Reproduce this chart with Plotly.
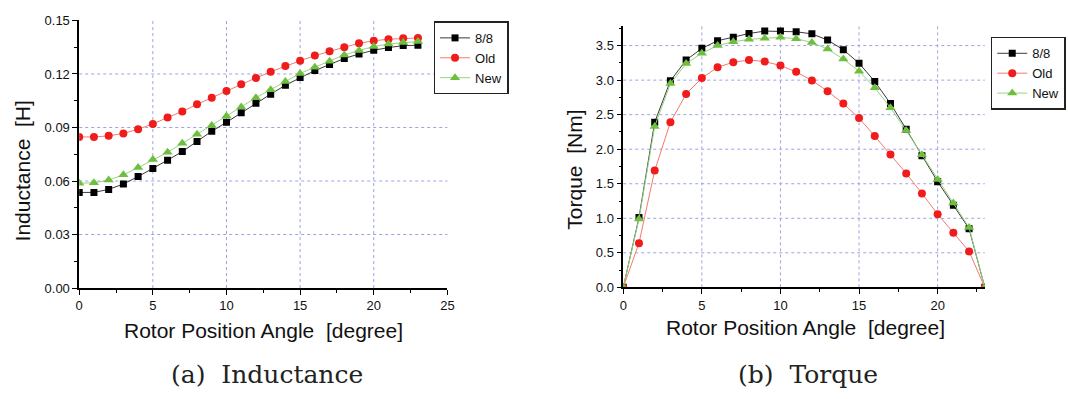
import plotly.graph_objects as go

# ---------------- data ----------------
angle = list(range(0, 24))

ind_88 = [0.0536, 0.0536, 0.0553, 0.0583, 0.0625, 0.0670, 0.0717, 0.0765, 0.0821, 0.0879,
          0.0929, 0.0983, 0.1036, 0.1087, 0.1137, 0.1180, 0.1219, 0.1253, 0.1287, 0.1312,
          0.1333, 0.1348, 0.1359, 0.1361]
ind_old = [0.0847, 0.0847, 0.0853, 0.0867, 0.0890, 0.0920, 0.0956, 0.0990, 0.1030, 0.1067,
           0.1105, 0.1143, 0.1178, 0.1212, 0.1245, 0.1274, 0.1303, 0.1328, 0.1350, 0.1372,
           0.1386, 0.1395, 0.1400, 0.1402]
ind_new = [0.0588, 0.0590, 0.0605, 0.0635, 0.0675, 0.0720, 0.0761, 0.0811, 0.0862, 0.0911,
           0.0965, 0.1015, 0.1067, 0.1112, 0.1158, 0.1203, 0.1238, 0.1271, 0.1307, 0.1332,
           0.1354, 0.1368, 0.1377, 0.1382]

tq_88 = [0.0, 1.01, 2.39, 2.99, 3.29, 3.46, 3.57, 3.62, 3.675, 3.71, 3.71, 3.70, 3.67, 3.58,
         3.44, 3.245, 2.98, 2.66, 2.29, 1.905, 1.53, 1.19, 0.85, 0.0]
tq_old = [0.0, 0.64, 1.69, 2.39, 2.80, 3.03, 3.185, 3.26, 3.29, 3.27, 3.21, 3.12, 2.995, 2.84,
          2.66, 2.45, 2.19, 1.925, 1.65, 1.36, 1.06, 0.79, 0.52, 0.0]
tq_new = [0.0, 0.99, 2.33, 2.95, 3.24, 3.39, 3.50, 3.555, 3.59, 3.605, 3.62, 3.60, 3.545, 3.45,
          3.305, 3.13, 2.89, 2.60, 2.27, 1.92, 1.56, 1.22, 0.865, 0.0]

series_names = ["8/8", "Old", "New"]

# grid positions (interior ticks only, as in the reference)
grid_x_left = [5, 10, 15, 20]
grid_y_left = [0.03, 0.06, 0.09, 0.12]
grid_x_right = [5, 10, 15, 20]
grid_y_right = [0.5, 1.0, 1.5, 2.0, 2.5, 3.0, 3.5]

x_title = "Rotor Position Angle\u00a0\u00a0[degree]"
y_title_left = "Inductance\u00a0\u00a0[H]"
y_title_right = "Torque\u00a0\u00a0[Nm]"
caption_left = "(a)\u00a0\u00a0Inductance"
caption_right = "(b)\u00a0\u00a0Torque"

# ---------------- styles ----------------
FONT = "Liberation Sans, Arial, sans-serif"
styles = {
    "8/8": dict(line=dict(color="#3a3a3a", width=1), marker=dict(symbol="square", size=7, color="#000000")),
    "Old": dict(line=dict(color="#f27a6e", width=1), marker=dict(symbol="circle", size=8, color="#f01c1c")),
    "New": dict(line=dict(color="#95d47f", width=1), marker=dict(symbol="triangle-up", size=9, color="#6fbf3f")),
}

fig = go.Figure()

for name, ys in zip(series_names, [ind_88, ind_old, ind_new]):
    fig.add_trace(go.Scatter(x=angle, y=ys, name=name, mode="lines+markers",
                             xaxis="x", yaxis="y", legend="legend", **styles[name]))
for name, ys in zip(series_names, [tq_88, tq_old, tq_new]):
    fig.add_trace(go.Scatter(x=angle, y=ys, name=name, mode="lines+markers",
                             xaxis="x2", yaxis="y2", legend="legend2", **styles[name]))

W, H = 1068, 399

def px_x(p):
    return p / W

def px_y(p):
    return (H - p) / H

axis_common = dict(showline=True, linecolor="black", linewidth=1.5, ticks="outside",
                   ticklen=5, tickwidth=1.2, tickcolor="black", zeroline=False, showgrid=False,
                   tickfont=dict(family=FONT, size=13, color="#111"))

def minor(dt):
    return dict(dtick=dt, ticklen=3, ticks="outside", tickcolor="black", showgrid=False)

fig.update_layout(
    width=W, height=H,
    margin=dict(l=0, r=0, t=0, b=0),
    paper_bgcolor="white", plot_bgcolor="white",
    showlegend=True,
    xaxis=dict(domain=[px_x(76), px_x(448)], range=[0, 25], dtick=5, anchor="y",
               minor=minor(2.5), **axis_common),
    yaxis=dict(domain=[px_y(292), px_y(14)], range=[0, 0.15], dtick=0.03, tickformat=".2f",
               anchor="x", minor=minor(0.015), **axis_common),
    xaxis2=dict(domain=[px_x(625.7), px_x(991)], range=[0, 23], dtick=5, anchor="y2",
                minor=minor(2.5), **axis_common),
    yaxis2=dict(domain=[px_y(291.3), px_y(20)], range=[0, 3.78], dtick=0.5, tickformat=".1f",
                anchor="x2", minor=minor(0.25), **axis_common),
    legend=dict(x=px_x(434), y=px_y(15), xanchor="left", yanchor="top",
                bordercolor="#222", borderwidth=1.5, bgcolor="white",
                font=dict(family=FONT, size=13, color="#111"), itemwidth=30, tracegroupgap=0),
    legend2=dict(x=px_x(997), y=px_y(31), xanchor="left", yanchor="top",
                 bordercolor="#222", borderwidth=1.5, bgcolor="white",
                 font=dict(family=FONT, size=13, color="#111"), itemwidth=30, tracegroupgap=0),
)

GRID = dict(color="#9ea3e0", width=1, dash="dot")
shapes = []
for xa, ya, gx, gy in [("x", "y", grid_x_left, grid_y_left), ("x2", "y2", grid_x_right, grid_y_right)]:
    for v in gx:
        shapes.append(dict(type="line", xref=xa, yref=ya + " domain", x0=v, x1=v, y0=0, y1=1,
                           line=GRID, layer="below"))
    for v in gy:
        shapes.append(dict(type="line", xref=xa + " domain", yref=ya, x0=0, x1=1, y0=v, y1=v,
                           line=GRID, layer="below"))
fig.update_layout(shapes=shapes)

annos = [
    dict(text=x_title, x=px_x(262), y=px_y(336), font=dict(family=FONT, size=21, color="#111")),
    dict(text=x_title, x=px_x(810), y=px_y(333), font=dict(family=FONT, size=21, color="#111")),
    dict(text=y_title_left, x=px_x(19), y=px_y(170), textangle=-90, font=dict(family=FONT, size=21, color="#111")),
    dict(text=y_title_right, x=px_x(577), y=px_y(169), textangle=-90, font=dict(family=FONT, size=21, color="#111")),
    dict(text=caption_left, x=px_x(266), y=px_y(382), font=dict(family="DejaVu Serif, serif", size=25, color="#222")),
    dict(text=caption_right, x=px_x(812), y=px_y(382), font=dict(family="DejaVu Serif, serif", size=25, color="#222")),
]
for a in annos:
    fig.add_annotation(xref="paper", yref="paper", showarrow=False, xanchor="center", yanchor="middle", **a)

fig.write_html("out.html")
